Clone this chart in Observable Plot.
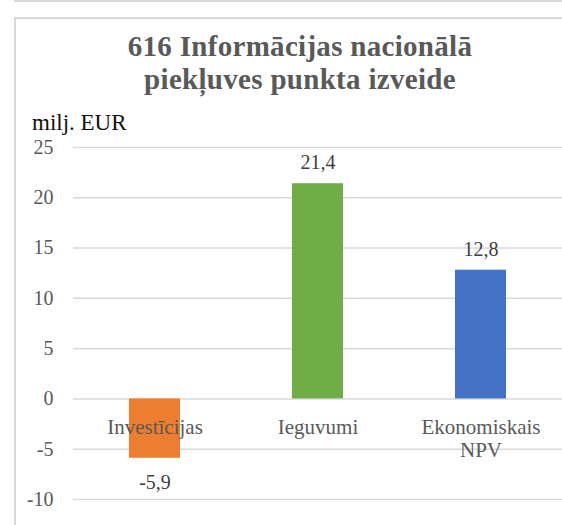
<!DOCTYPE html>
<html>
<head>
<meta charset="utf-8">
<script src="https://cdn.jsdelivr.net/npm/d3@7"></script>
<script src="https://cdn.jsdelivr.net/npm/@observablehq/plot@0.6"></script>
<style>
  html, body { margin: 0; padding: 0; background: #fff; overflow: hidden; width: 562px; height: 525px; }
  .serif { font-family: "Times New Roman", "Liberation Serif", Tinos, "DejaVu Serif", serif; }
  .box1 { position: absolute; left: 14px; top: -20px; width: 600px; height: 22px; border: 2px solid #d9d9d9; box-sizing: border-box; }
  .box2 { position: absolute; left: 14px; top: 17px; width: 600px; height: 600px; border: 2px solid #d9d9d9; box-sizing: border-box; }
  .title { position: absolute; left: 0; width: 600px; text-align: center; font-weight: bold; font-size: 29px; line-height: 33px; height: 33px; letter-spacing: 0.3px; color: #595959; white-space: nowrap; }
  .unit { position: absolute; left: 32px; top: 111px; font-size: 23px; line-height: 23px; color: #111; white-space: nowrap; }
  #chart { position: absolute; left: 0; top: 130px; }
</style>
</head>
<body>
<div class="box1"></div>
<div class="box2"></div>
<div class="title serif" style="top:30px">616 Informācijas nacionālā</div>
<div class="title serif" style="top:63px">piekļuves punkta izveide</div>
<div class="unit serif">milj. EUR</div>
<div id="chart"></div>
<script>
const categories = ["Investīcijas", "Ieguvumi", "Ekonomiskais\nNPV"];
const values = [-5.9, 21.4, 12.8];
const colors = ["#ED7D31", "#70AD47", "#4472C4"];
const yTicks = [-10, -5, 0, 5, 10, 15, 20, 25];

const data = categories.map((c, i) => ({category: c, value: values[i]}));
const fmt = v => String(v).replace(".", ",");
const serif = '"Times New Roman", "Liberation Serif", Tinos, "DejaVu Serif", serif';

const chart = Plot.plot({
  width: 562,
  height: 395,
  marginTop: 17,
  marginBottom: 26,
  marginLeft: 73,
  marginRight: 0,
  style: {fontFamily: serif, fontSize: "20px", color: "#595959", background: "transparent", overflow: "visible"},
  x: {domain: categories, paddingInner: 0.687, paddingOuter: 0.3435, axis: null},
  y: {domain: [-10, 25], ticks: yTicks, tickSize: 0, tickPadding: 20, tickFormat: fmt, label: null},
  color: {domain: categories, range: colors},
  marks: [
    Plot.ruleY(yTicks, {stroke: "#d9d9d9", strokeWidth: 1.5, strokeOpacity: 1}),
    Plot.barY(data, {x: "category", y: "value", fill: "category"}),
    Plot.text(data.filter(d => d.value >= 0), {x: "category", y: "value", text: d => fmt(d.value), dy: -21, fill: "#404040", fontSize: 20}),
    Plot.text(data.filter(d => d.value < 0), {x: "category", y: "value", text: d => fmt(d.value), dy: 24, fill: "#404040", fontSize: 20}),
    Plot.text(data, {x: "category", y: () => 0, text: "category", lineAnchor: "top", dy: 19, lineHeight: 1.095, fill: "#595959", fontSize: 21})
  ]
});
chart.querySelectorAll("text").forEach(t => t.style.fontFamily = serif);
document.getElementById("chart").appendChild(chart);
</script>
</body>
</html>
